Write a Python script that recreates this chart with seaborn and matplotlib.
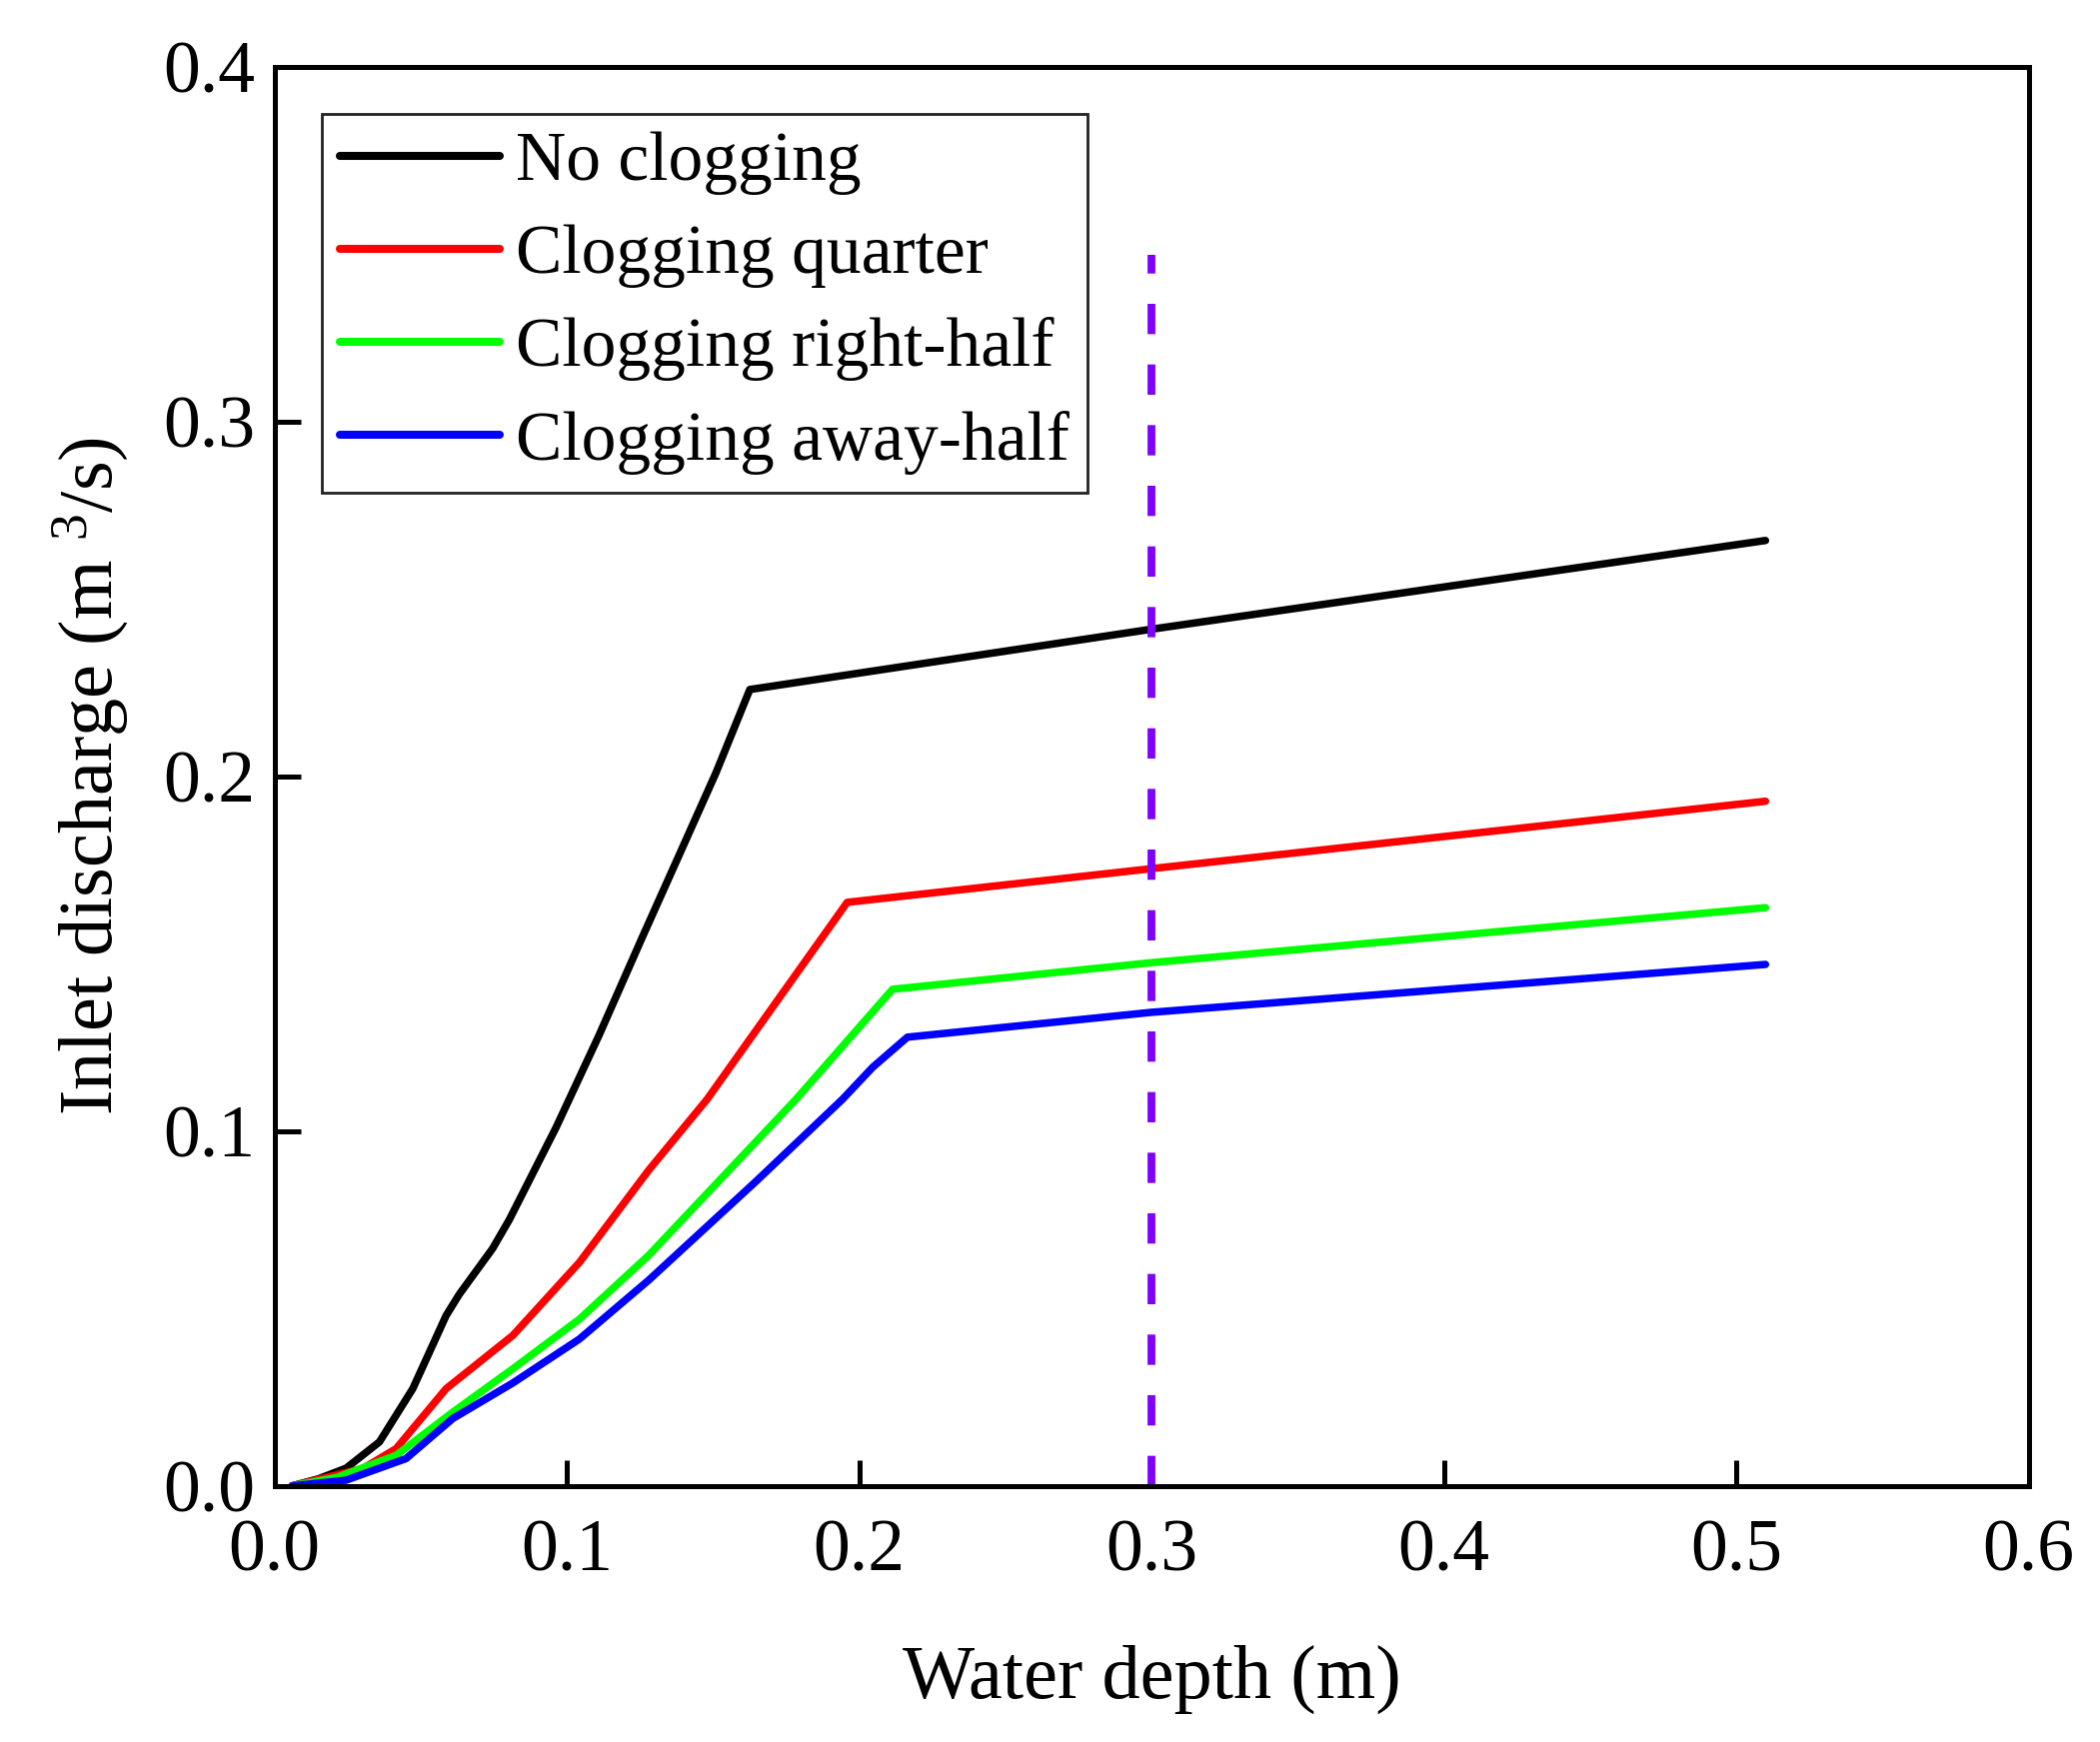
import pandas as pd
import matplotlib
matplotlib.use("Agg")
import matplotlib.pyplot as plt
import seaborn as sns

# ======================
# Datos
# ======================
series_names = ["No clogging", "Clogging quarter", "Clogging right-half", "Clogging away-half"]

x_no = [0.006, 0.015, 0.0245, 0.0359, 0.0473, 0.0587, 0.0632, 0.0746, 0.0803, 0.0963,
        0.111, 0.126, 0.1396, 0.151, 0.1626, 0.3, 0.51]
y_no = [0.0, 0.002, 0.005, 0.0124, 0.0274, 0.048, 0.054, 0.0669, 0.075, 0.101,
        0.127, 0.155, 0.180, 0.201, 0.2245, 0.2415, 0.2665]

x_quarter = [0.006, 0.0137, 0.0302, 0.0416, 0.0587, 0.0815, 0.1043, 0.128, 0.148,
             0.1959, 0.3, 0.51]
y_quarter = [0.0, 0.0016, 0.0049, 0.0105, 0.0274, 0.0424, 0.063, 0.089, 0.109,
             0.1645, 0.174, 0.193]

x_right = [0.006, 0.0214, 0.0416, 0.061, 0.0815, 0.1043, 0.128, 0.1784, 0.2114, 0.3, 0.51]
y_right = [0.0, 0.0024, 0.0086, 0.0208, 0.033, 0.047, 0.065, 0.109, 0.140, 0.1475, 0.163]

x_away = [0.006, 0.0244, 0.045, 0.061, 0.0815, 0.1043, 0.128, 0.1649, 0.1943, 0.2046,
          0.2165, 0.3, 0.51]
y_away = [0.0, 0.0016, 0.0077, 0.019, 0.029, 0.0414, 0.058, 0.086, 0.109, 0.118,
          0.1265, 0.1335, 0.147]

# línea vertical de referencia
ref_x = 0.3
ref_top = 0.347

colores = {
    "No clogging": "#000000",
    "Clogging quarter": "#FF0000",
    "Clogging right-half": "#00FF00",
    "Clogging away-half": "#0000FF",
}

frames = []
for nombre, xs, ys in zip(series_names,
                          [x_no, x_quarter, x_right, x_away],
                          [y_no, y_quarter, y_right, y_away]):
    frames.append(pd.DataFrame({"depth": xs, "discharge": ys, "caso": nombre}))
datos = pd.concat(frames, ignore_index=True)

# ======================
# Gráfico
# ======================
sns.set_theme(style="white")
plt.rcParams["font.family"] = ["Liberation Serif", "DejaVu Serif"]
plt.rcParams["mathtext.fontset"] = "custom"
plt.rcParams["mathtext.rm"] = "Liberation Serif"
plt.rcParams["mathtext.it"] = "Liberation Serif:italic"
for clave in ["text.color", "axes.labelcolor", "xtick.color", "ytick.color"]:
    plt.rcParams[clave] = "black"

fig, ax = plt.subplots(figsize=(10.505, 8.715), dpi=200)
fig.subplots_adjust(left=0.1307, right=0.966, top=0.9616, bottom=0.147)

sns.lineplot(data=datos, x="depth", y="discharge", hue="caso", hue_order=series_names,
             palette=colores, linewidth=2.7, sort=False, estimator=None, ax=ax)

ax.vlines(ref_x, 0, ref_top, colors="#8000FF", linewidth=2.8,
          linestyles=(0, (3.9, 3.9)))

ax.set_xlim(0, 0.6)
ax.set_ylim(0, 0.4)
ax.set_xticks([0.0, 0.1, 0.2, 0.3, 0.4, 0.5, 0.6])
ax.set_yticks([0.0, 0.1, 0.2, 0.3, 0.4])
ax.set_xticklabels(["0.0", "0.1", "0.2", "0.3", "0.4", "0.5", "0.6"])
ax.set_yticklabels(["0.0", "0.1", "0.2", "0.3", "0.4"])
ax.tick_params(axis="both", direction="in", length=9.5, width=1.8, labelsize=26.5,
               colors="black", bottom=True, left=True, top=False, right=False)
ax.tick_params(axis="x", pad=12)
ax.tick_params(axis="y", pad=7)

for lado in ax.spines.values():
    lado.set_linewidth(1.8)
    lado.set_color("black")

ax.set_xlabel("Water depth (m)", fontsize=27.5, labelpad=21)
ax.set_ylabel(r"Inlet discharge (m $^{3}$/s)", fontsize=27.5, labelpad=12)

leg = ax.legend(loc="upper left", bbox_to_anchor=(0.027, 0.967), borderaxespad=0,
                fontsize=25, handlelength=2.3, handletextpad=0.23, borderpad=0.26,
                labelspacing=0.42, frameon=True, fancybox=False, framealpha=1)
leg.get_frame().set_edgecolor("#222222")
leg.get_frame().set_linewidth(1.0)
for linea in leg.get_lines():
    linea.set_linewidth(2.9)

plt.savefig("out.png", dpi=200)
